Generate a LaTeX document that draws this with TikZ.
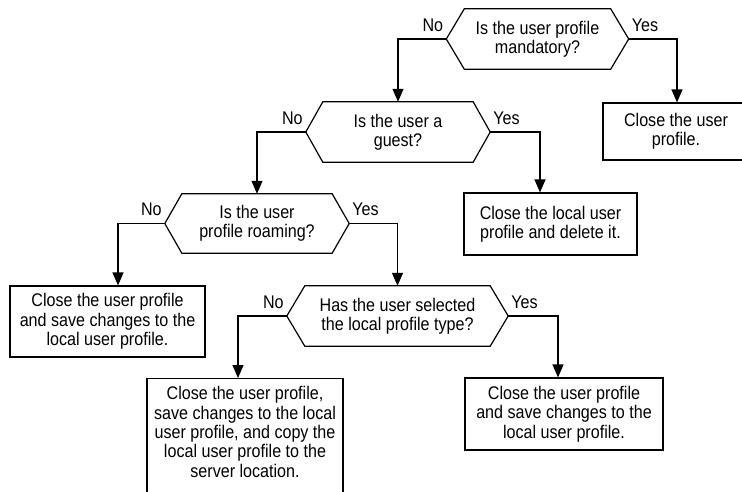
\documentclass[tikz,border=0pt]{standalone}
\usepackage{fontspec}
\setmainfont{Liberation Sans}[FakeStretch=0.88]
\usetikzlibrary{arrows.meta,calc}

\tikzset{
  txt/.style={font=\fontsize{18.3}{19.3}\selectfont, align=center},
  hexcore/.style={txt, rectangle, inner sep=0pt, minimum height=60pt},
  hexline/.style={line width=1.2pt, line join=miter},
  box/.style={txt, rectangle, draw, line width=1.2pt, inner sep=0pt},
  arr/.style={line width=1.2pt, -{Triangle[width=11pt,length=13pt]}},
  nolbl/.style={txt, anchor=base east, inner sep=0pt},
  yeslbl/.style={txt, anchor=base west, inner sep=0pt},
}

% Draws the hexagonal decision outline round a core node and names its two tips
\newcommand{\decisionhex}[2]{%
  \coordinate (#1l) at ([xshift=-#2]#1.west);
  \coordinate (#1r) at ([xshift=#2]#1.east);
  \draw[hexline] (#1.north west) -- (#1.north east) -- (#1r)
    -- (#1.south east) -- (#1.south west) -- (#1l) -- cycle;
  \node[nolbl] at ([xshift=-3pt,yshift=8pt]#1l) {No};
  \node[yeslbl] at ([xshift=3pt,yshift=8pt]#1r) {Yes};
}

\begin{document}
\begin{tikzpicture}[x=1pt,y=-1pt]
\useasboundingbox (0,0) rectangle (742,491);

% decisions
\node[hexcore, minimum width=146pt] (h1) at (537.5,39) {Is the user profile\\mandatory?};
\decisionhex{h1}{18pt}
\node[hexcore, minimum width=150pt] (h2) at (398,132) {Is the user a\\guest?};
\decisionhex{h2}{17pt}
\node[hexcore, minimum width=150pt, minimum height=59pt] (h3) at (257,223.5) {Is the user\\profile roaming?};
\decisionhex{h3}{17pt}
\node[hexcore, minimum width=185pt] (h4) at (397.5,316) {Has the user selected\\the local profile type?};
\decisionhex{h4}{18pt}

% outcomes
\node[box, minimum width=146pt, minimum height=57pt] (b1) at (676,131.5) {Close the user\\profile.};
\node[box, minimum width=173pt, minimum height=62pt] (b2) at (550.5,224) {Close the local user\\profile and delete it.};
\node[box, minimum width=195pt, minimum height=71pt] (b3) at (107.5,321.5) {Close the user profile\\and save changes to the\\local user profile.};
\node[box, anchor=north, minimum width=196pt, minimum height=124pt] (b4) at (245,378) {};
\node[txt, inner sep=0pt] (b4t) at (245,432) {Close the user profile,\\save changes to the local\\user profile, and copy the\\local user profile to the\\server location.};
\node[box, minimum width=198pt, minimum height=72pt] (b5) at (564,414) {Close the user profile\\and save changes to the\\local user profile.};

% connectors
\draw[arr] (h1l) -| (h2.north);
\draw[arr] (h1r) -| ([xshift=1pt]b1.north);
\draw[arr] (h2l) -| (h3.north);
\draw[arr] (h2r) -| ([xshift=-10.5pt]b2.north);
\draw[arr] (h3l) -| ([xshift=10.5pt]b3.north);
\draw[arr] (h3r) -| (h4.north);
\draw[arr] (h4l) -| ([xshift=-7pt]b4.north);
\draw[arr] (h4r) -| ([xshift=-6pt]b5.north);
\end{tikzpicture}
\end{document}
